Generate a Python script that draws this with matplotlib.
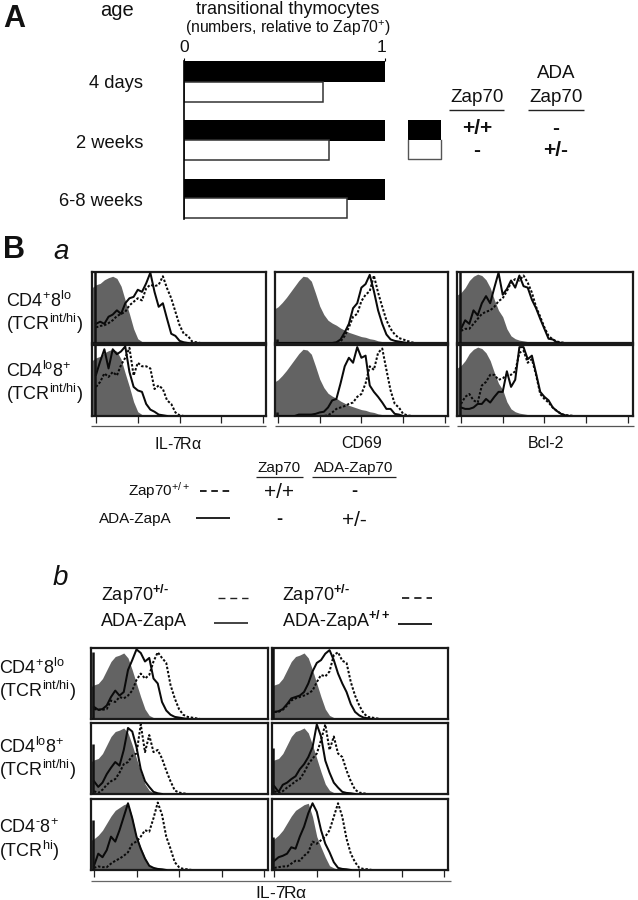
import numpy as np
import matplotlib
matplotlib.use("Agg")
import matplotlib.pyplot as plt

plt.rcParams['font.family'] = ['Liberation Sans', 'DejaVu Sans']
plt.rcParams['mathtext.fontset'] = 'custom'
plt.rcParams['mathtext.rm'] = 'Liberation Sans'
plt.rcParams['mathtext.it'] = 'Liberation Sans:italic'
plt.rcParams['mathtext.bf'] = 'Liberation Sans:bold'
plt.rcParams['mathtext.default'] = 'regular'

# ---- panel A data ----
ages = ['4 days', '2 weeks', '6-8 weeks']
black_vals = [1.0, 1.0, 1.0]
white_vals = [0.69, 0.72, 0.81]

# ---- histogram data (0.1-decade bins) ----
BIN = 0.1
gray_il7 = [82, 84, 89, 92, 94, 91, 80, 60, 41, 20, 6, 2, 1, 0.5]
gray_cd69 = [51, 57, 64, 72, 80, 88, 94, 93, 87, 70, 52, 40, 32, 28, 25, 21, 18, 15, 13, 11, 9, 8, 6, 5, 3, 2, 1, 0.5]
gray_bcl2 = [71, 78, 88, 94, 97, 95, 89, 78, 61, 46, 37, 20, 10, 6, 4, 3, 2, 2, 2, 1, 1, 1, 1, 1]
gray_b = [48, 50, 57, 69, 81, 88, 90, 93, 86, 69, 50, 31, 14, 5, 2, 1, 0.5]
gray_b3 = [44, 49, 56, 66, 76, 84, 88, 92, 94, 75, 47, 32, 18, 6, 3, 1]

s_il7_1 = [27, 30, 27, 37, 40, 46, 41, 56, 63, 65, 75, 72, 84, 99, 72, 51, 56, 34, 13, 10, 3, 1]
d_il7_1 = [22, 24, 25, 28, 32, 38, 41, 44, 53, 58, 63, 60, 77, 82, 80, 82, 94, 77, 63, 44, 25, 13, 10, 2, 1]
s_il7_2 = [58, 77, 94, 67, 94, 87, 91, 98, 62, 41, 36, 34, 17, 9, 6, 2, 1]
d_il7_2 = [41, 48, 60, 55, 62, 57, 72, 82, 96, 57, 75, 70, 70, 67, 38, 43, 38, 22, 17, 5, 1]
s_cd69_1 = [0, 0, 0, 0, 0, 0, 0, 0, 0, 0, 0, 0, 0, 0, 1, 5, 15, 27, 49, 56, 78, 83, 96, 73, 46, 27, 12, 5, 3, 2, 1]
d_cd69_1 = [0, 0, 0, 0, 0, 0, 0, 0, 0, 0, 0, 0, 0, 0, 0, 2, 10, 22, 37, 41, 59, 68, 73, 95, 71, 51, 32, 20, 12, 7, 5, 3, 1]
s_cd69_2 = [0, 0, 0, 0, 0, 2, 2, 2, 2, 3, 5, 6, 12, 22, 24, 46, 70, 82, 75, 97, 82, 85, 43, 34, 27, 19, 10, 10, 3, 2]
d_cd69_2 = [0, 0, 0, 0, 0, 0, 0, 0, 0, 0, 0, 0, 1, 5, 10, 12, 14, 17, 19, 27, 31, 46, 70, 65, 89, 95, 65, 36, 17, 12, 3, 1]
s_bcl_1 = [20, 32, 27, 46, 39, 56, 66, 56, 78, 99, 68, 76, 88, 78, 95, 80, 78, 61, 49, 34, 20, 6, 5, 1]
d_bcl_1 = [17, 20, 20, 27, 34, 41, 44, 46, 51, 59, 63, 73, 85, 90, 88, 95, 85, 71, 51, 37, 22, 10, 5, 2, 1]
s_bcl_2 = [12, 10, 10, 12, 17, 17, 24, 19, 27, 34, 34, 63, 41, 51, 97, 97, 80, 85, 60, 34, 27, 22, 12, 7, 3, 1]
d_bcl_2 = [17, 27, 31, 22, 19, 43, 48, 58, 58, 51, 53, 58, 58, 63, 89, 92, 75, 80, 58, 31, 24, 19, 12, 7, 3, 1, 1]

s_b11 = [17, 13, 14, 19, 31, 40, 33, 38, 69, 83, 98, 93, 81, 86, 57, 50, 24, 12, 6, 3, 2, 1]
d_b11 = [14, 13, 13, 14, 26, 24, 31, 29, 33, 40, 55, 64, 57, 62, 81, 94, 86, 79, 48, 29, 14, 6, 3, 2, 1]
s_b21 = [18, 10, 16, 28, 37, 45, 40, 62, 93, 88, 66, 35, 18, 10, 3, 1]
d_b21 = [4, 1.5, 6, 13, 18, 21, 30, 42, 45, 54, 57, 98, 59, 83, 59, 62, 50, 33, 18, 5, 2, 1]
s_b31 = [6, 23, 18, 28, 47, 40, 56, 75, 94, 73, 47, 30, 16, 6, 3, 1.5, 1]
d_b31 = [3, 5, 4, 4, 9, 13, 16, 20, 25, 37, 40, 47, 56, 54, 73, 95, 78, 47, 30, 11, 4, 1.5, 1]
s_b12 = [10, 11, 14, 21, 29, 31, 33, 38, 50, 67, 79, 83, 92, 97, 83, 64, 50, 38, 21, 10, 5, 2, 1]
d_b12 = [10, 10, 13, 19, 26, 29, 31, 33, 36, 40, 52, 62, 60, 67, 90, 94, 82, 79, 52, 33, 19, 8, 3, 2, 1]
s_b22 = [11, 3, 13, 16, 21, 25, 35, 42, 52, 66, 98, 81, 47, 30, 16, 9, 3, 1.5, 1]
d_b22 = [4, 1.5, 4, 9, 13, 18, 21, 30, 42, 50, 57, 76, 98, 62, 81, 57, 52, 33, 18, 6, 2, 1]
s_b32 = [13, 18, 20, 23, 32, 30, 47, 61, 80, 94, 82, 56, 37, 25, 11, 3, 1.5, 1]
d_b32 = [3, 4, 5, 5, 9, 13, 13, 20, 25, 40, 37, 42, 47, 56, 75, 94, 75, 44, 23, 11, 3, 1.5, 1]

# tallest first-channel spike in each panel
spike_a = [[100, 5, 100], [100, 5, 100]]
spike_b = [[95, 100], [70, 65], [70, 47]]
decade_ticks = [0, 1, 2, 3, 4]

series_a = [[(gray_il7, s_il7_1, d_il7_1), (gray_cd69, s_cd69_1, d_cd69_1), (gray_bcl2, s_bcl_1, d_bcl_1)],
            [(gray_il7, s_il7_2, d_il7_2), (gray_cd69, s_cd69_2, d_cd69_2), (gray_bcl2, s_bcl_2, d_bcl_2)]]
series_b = [[(gray_b, s_b11, d_b11), (gray_b, s_b12, d_b12)],
            [(gray_b, s_b21, d_b21), (gray_b, s_b22, d_b22)],
            [(gray_b3, s_b31, d_b31), (gray_b3, s_b32, d_b32)]]

W, H = 638, 900
fig = plt.figure(figsize=(W / 100, H / 100), dpi=100)
FRAME = '#1a1a1a'
GRAY = '#636363'
HY = '\u2010'


def axes_px(l, t, r, b):
    return fig.add_axes([l / W, 1 - b / H, (r - l) / W, (b - t) / H])


bg = axes_px(0, 0, W, H)
bg.set_xlim(0, W)
bg.set_ylim(H, 0)
bg.axis('off')


def T(x, y, s, size=11, ha='left', **kw):
    bg.text(x, y, s, fontsize=size, ha=ha, va='center', color='#111111', **kw)


def L(x0, x1, y, lw=1.0, color='#222222', **kw):
    bg.plot([x0, x1], [y, y], color=color, lw=lw, solid_capstyle='butt', **kw)


def hist_panel(box, t0, dec, spec, spike, with_ticks):
    l, t, r, b = box
    ax = axes_px(l, t, r, b)
    gray, solid, dotted = spec
    xl = ((l - t0) / dec, (r - t0) / dec)
    for arr, kind in ((gray, 'g'), (solid, 's'), (dotted, 'd')):
        x = np.arange(len(arr)) * BIN
        y = np.array(arr, float)
        x = np.append(x, x[-1] + BIN)
        y = np.append(y, 0)
        if kind == 'g':
            x = np.insert(x, 0, xl[0])
            y = np.insert(y, 0, y[0] * 0.95)
            ax.fill_between(x, 0, y, color=GRAY, lw=0, zorder=1)
        elif kind == 's':
            ax.plot(x, y, color='#0a0a0a', lw=1.45, zorder=3)
        else:
            ax.plot(x, y, color='#0a0a0a', lw=1.45, ls=(0, (1.2, 0.9)), zorder=2)
    ax.vlines(-0.03, 0, spike, color='#111111', lw=1.8, zorder=4)
    ax.set_xlim(*xl)
    ax.set_ylim(0, 100)
    ax.set_yticks([])
    if with_ticks:
        ax.set_xticks(decade_ticks)
        ax.set_xticklabels([])
        ax.tick_params(axis='x', length=5, width=0.9, color='#222222', pad=0)
    else:
        ax.set_xticks([])
    for sp in ax.spines.values():
        sp.set_linewidth(1.6)
        sp.set_color(FRAME)
    return ax


# ---------- Panel A ----------
T(3, 19, 'A', 22, weight='bold')
T(117, 10, 'age', 14.5, ha='center')
T(288, 9, 'transitional thymocytes', 13, ha='center')
T(288, 28, '(numbers, relative to Zap70$^{+}$)', 11.3, ha='center')
T(184, 47, '0', 12.5, ha='center')
T(382, 47, '1', 12.5, ha='center')

axA = axes_px(184, 61, 386, 219)
rows = np.arange(len(ages))
BAR_STEP = 59
BAR_H = 20.5
black_y = [71.5 - 61 + BAR_STEP * i for i in rows]
white_y = [92 - 61 + BAR_STEP * i - 1.0 * i for i in rows]
axA.barh(black_y, black_vals, height=BAR_H, color='black', edgecolor='black', lw=0)
axA.barh(white_y, white_vals, height=19.5, color='white', edgecolor='#333333', lw=1.1)
axA.set_xlim(0, 1.005)
axA.set_ylim(158, 0)
axA.set_yticks([])
axA.set_xticks([0, 1])
axA.set_xticklabels([])
axA.tick_params(axis='x', top=True, bottom=False, length=2, width=0.8, pad=0)
for k in ('top', 'right', 'bottom'):
    axA.spines[k].set_visible(False)
axA.spines['left'].set_linewidth(1.2)
for i, a in enumerate(ages):
    T(143, 84 + 59 * i, a, 13.2, ha='right')

bg.fill_between([408, 441], 120, 140, color='black', lw=0)
bg.plot([408, 408, 441, 441], [140, 159, 159, 140], color='#555555', lw=1.0)
T(477, 97, 'Zap70', 13.5, ha='center')
T(556, 74, 'ADA', 13.5, ha='center')
T(556, 97, 'Zap70', 13.5, ha='center')
L(449, 504, 110, 1.0)
L(528, 584, 110, 1.0)
T(477, 128, '+/+', 15, ha='center', weight='bold')
T(556, 128, '-', 15, ha='center', weight='bold')
T(477, 151, '-', 15, ha='center', weight='bold')
T(556, 151, '+/-', 15, ha='center', weight='bold')

# ---------- Panel B a ----------
T(3, 250, 'B', 22, weight='bold')
T(53, 252, 'a', 20, style='italic')
labels_a = [('CD4$^{+}$8$^{lo}$', '(TCR$^{int/hi}$)'), ('CD4$^{lo}$8$^{+}$', '(TCR$^{int/hi}$)')]
for (a, b_), ya in zip(labels_a, (301, 371)):
    T(6, ya, a, 13)
    T(6, ya + 23, b_, 13)

cols_a = [(92, 266, 96, 41.8), (275, 448, 278, 41.7), (457, 633, 461, 41.7)]
rows_a = [(272, 343), (345, 416)]
for r, (t, b) in enumerate(rows_a):
    for c, (l, rr, t0, dec) in enumerate(cols_a):
        hist_panel((l, t, rr, b), t0, dec, series_a[r][c], spike_a[r][c], r == 1)

for x0, x1, name in ((91, 266, 'IL-7R$\\alpha$'), (275, 449, 'CD69'), (457, 634, 'Bcl-2')):
    L(x0, x1, 426, 0.9, '#555555')
    T((x0 + x1) / 2, 444, name, 11.5, ha='center')

T(279, 468, 'Zap70', 11, ha='center')
T(354, 468, 'ADA-Zap70', 11, ha='center')
L(256, 303, 477, 0.9)
L(312, 396, 477, 0.9)
T(190, 491, 'Zap70$^{+/+}$', 11, ha='right')
T(172, 519, 'ADA-ZapA', 11, ha='right')
L(200, 230, 491, 1.4, ls=(0, (3.4, 2.4)))
L(196, 230, 518, 1.4)
T(279, 493, '+/+', 15, ha='center')
T(354, 491, '-', 13, ha='center', weight='bold')
T(279, 519, '-', 13, ha='center', weight='bold')
T(354, 520, '+/-', 15, ha='center')

# ---------- Panel B b ----------
T(53, 578, 'b', 20, style='italic')
T(101, 595, 'Zap70$^{\\mathbf{+/' + HY + '}}$', 13)
T(101, 621, 'ADA-ZapA', 13)
T(282, 595, 'Zap70$^{\\mathbf{+/' + HY + '}}$', 13)
T(282, 621, 'ADA-ZapA$^{\\mathbf{+/+}}$', 13)
L(218, 248, 598, 1.0, ls=(0, (5, 3.5)))
L(214, 248, 623, 1.2)
L(402, 432, 598, 1.3, ls=(0, (4, 2.8)))
L(398, 432, 624, 1.4)

labels_b = [('CD4$^{+}$8$^{lo}$', '(TCR$^{int/hi}$)'), ('CD4$^{lo}$8$^{+}$', '(TCR$^{int/hi}$)'), ('CD4$^{' + HY + '}$8$^{+}$', '(TCR$^{hi}$)')]
for (a, b_), ya in zip(labels_b, (668, 747, 828)):
    T(-1, ya, a, 13)
    T(-1, ya + 23, b_, 13)

cols_b = [(91, 268, 94, 42.5), (272, 448, 274.3, 42.5)]
rows_b = [(648, 719), (723, 794), (799, 870)]
for r, (t, b) in enumerate(rows_b):
    for c, (l, rr, t0, dec) in enumerate(cols_b):
        hist_panel((l, t, rr, b), t0, dec, series_b[r][c], spike_b[r][c], r == 2)

L(91, 451, 881, 0.9, '#666666')
T(281, 893, 'IL-7R$\\alpha$', 12.5, ha='center')

fig.savefig('out.png', dpi=100)
